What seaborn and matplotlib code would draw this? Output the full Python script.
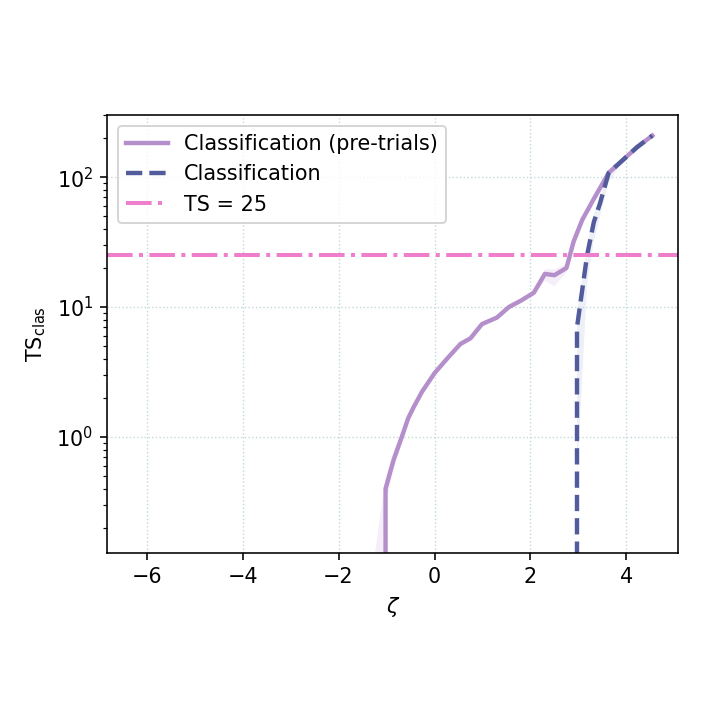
import numpy as np
import pandas as pd
import matplotlib
matplotlib.use("Agg")
import matplotlib.pyplot as plt
import seaborn as sns

# Curvas (zeta, TS y banda)
zeta_pre = [-1.25, -1.02, -0.85, -0.67, -0.55, -0.43, -0.26, 0.0, 0.26, 0.54, 0.75, 0.99,
            1.3, 1.55, 1.8, 2.07, 2.3, 2.5, 2.75, 2.9, 3.08, 3.32, 3.63, 3.94, 4.22, 4.54]
ts_pre = [0, 0.40, 0.67, 1.03, 1.39, 1.71, 2.23, 3.1, 4.0, 5.2, 5.75, 7.4,
          8.3, 10.0, 11.2, 12.9, 18.0, 17.6, 20.0, 32, 47, 68, 108, 137, 170, 209]
lo_pre = [0, 0.30, 0.58, 0.92, 1.28, 1.60, 2.10, 2.95, 3.8, 5.0, 5.5, 7.1,
          8.0, 9.6, 10.8, 12.3, 16.0, 14.5, 18.5, 29, 44, 64, 103, 133, 166, 205]
hi_pre = [0.12, 0.48, 0.78, 1.12, 1.50, 1.82, 2.35, 3.25, 4.2, 5.4, 6.0, 7.7,
          8.6, 10.4, 11.6, 13.5, 19.5, 19.5, 21.5, 35, 50, 72, 113, 141, 174, 213]

zeta_cls = [2.75, 2.97, 3.18, 3.32, 3.45, 3.63, 3.94, 4.22, 4.54]
ts_cls = [0, 7.0, 25, 45, 63, 108, 137, 170, 209]
lo_cls = [0, 0.5, 15, 32, 50, 92, 133, 166, 205]
hi_cls = [0, 9, 30, 52, 70, 114, 141, 174, 213]

ts_umbral = 25

col_pre = "#b58fcc"
col_cls = "#525c9c"
col_ts = "#ef7fcd"

plt.rcParams["font.size"] = 10.4

fig = plt.figure(figsize=(5, 5), dpi=144)
ax = fig.add_axes([0.149, 0.232, 0.793, 0.608])

ax.fill_between(zeta_pre, lo_pre, hi_pre, color=col_pre, alpha=0.15, lw=0)
ax.fill_between(zeta_cls, lo_cls, hi_cls, color="#8a9ccc", alpha=0.15, lw=0)

sns.lineplot(x=zeta_pre, y=ts_pre, ax=ax, color=col_pre, lw=2.2,
             label="Classification (pre-trials)", sort=False)
sns.lineplot(x=zeta_cls, y=ts_cls, ax=ax, color=col_cls, lw=2.2, ls="--",
             label="Classification", sort=False)
ax.axhline(ts_umbral, color=col_ts, lw=2, ls="-.", label="TS = 25")

ax.set_yscale("log")
ax.set_xlim(-6.82, 5.08)
ax.set_ylim(0.128, 300)
ax.set_xticks([-6, -4, -2, 0, 2, 4])
ax.grid(True, which="major", ls=":", color="#c2dada", lw=0.7)
ax.set_xlabel(r"$\zeta$")
ax.set_ylabel(r"TS$_{\mathrm{clas}}$")
ax.legend(loc="upper left")

fig.savefig("out.png", dpi=144)
